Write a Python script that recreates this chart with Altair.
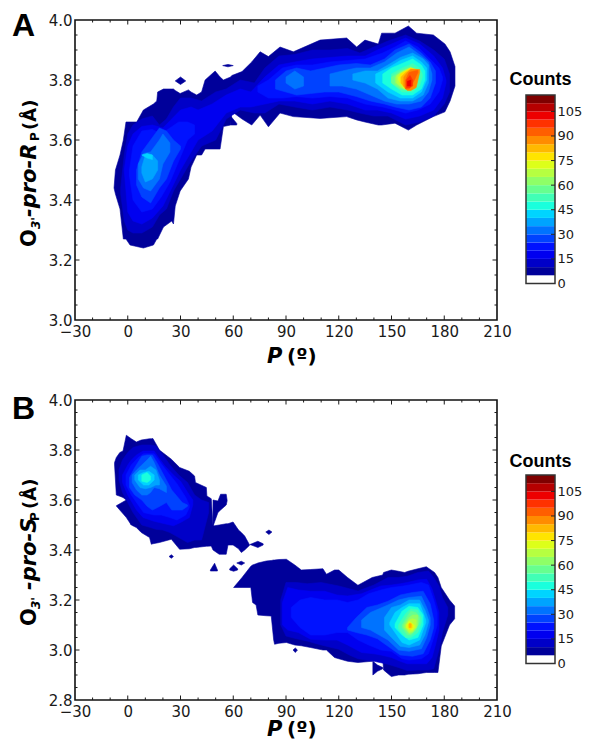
import altair as alt
import pandas as pd

# colour bands: every entry is one 5-count band, starting at 5-10
COLORS = ["#00009a", "#0000c8", "#0000f0", "#0012ff", "#0042ff", "#0073ff", "#00a4ff", "#00d4ff",
          "#1affdd", "#41ffb6", "#67ff8f", "#8fff67", "#b6ff41", "#ddff1a", "#ffe500", "#ffb900",
          "#ff8c00", "#ff5e00", "#ff3200", "#ed0000", "#b60000", "#7f0000"]
BAND_EDGES = [0, 5, 10, 15, 20, 25, 30, 35, 40, 45, 50, 55, 60, 65, 70, 75, 80, 85, 90, 95, 100, 105, 110, 115]
BAR_TICKS = [0, 15, 30, 45, 60, 75, 90, 105]
X_MAJOR = [-30, 0, 30, 60, 90, 120, 150, 180, 210]
X_MINOR = [-20, -10, 10, 20, 40, 50, 70, 80, 100, 110, 130, 140, 160, 170, 190, 200]
YA_MAJOR = [3.0, 3.2, 3.4, 3.6, 3.8, 4.0]
YB_MAJOR = [2.8, 3.0, 3.2, 3.4, 3.6, 3.8, 4.0]
YA_MINOR = [3.05, 3.1, 3.15, 3.25, 3.3, 3.35, 3.45, 3.5, 3.55, 3.65, 3.7, 3.75, 3.85, 3.9, 3.95]
YB_MINOR = [2.85, 2.9, 2.95, 3.05, 3.1, 3.15, 3.25, 3.3, 3.35, 3.45, 3.5, 3.55, 3.65, 3.7, 3.75, 3.85, 3.9, 3.95]

# contour outlines: (P, lower, upper) per count level
A05 = [(-7.8,3.44,3.44),(-7,3.42,3.50),(-4.4,3.37,3.55),(-2.5,3.27,3.60),(-1,3.27,3.66),(1.3,3.25,3.66),(5.1,3.245,3.66),
       (8.9,3.24,3.70),(14.6,3.25,3.72),(16.5,3.27,3.73),(17,3.27,3.76),(20.3,3.31,3.77),(25,3.33,3.77),(26,3.32,3.77),(27,3.38,3.765),
       (29.8,3.43,3.755),(34.5,3.47,3.767),(36,3.51,3.76),(39.2,3.55,3.75),(42,3.55,3.76),(44,3.57,3.80),(49.7,3.57,3.83),(52.5,3.57,3.81),
       (54.4,3.645,3.80),(58.5,3.65,3.81),(59.2,3.695,3.815),(65,3.67,3.828),(70.5,3.65,3.86),(75.3,3.683,3.894),(80,3.644,3.878),
       (86.6,3.69,3.91),(94.2,3.678,3.894),(109.4,3.672,3.933),(124.5,3.678,3.94),(130.2,3.667,3.91),(134.9,3.66,3.933),(142.5,3.65,3.92),
       (144.4,3.65,3.956),(152,3.656,3.956),(159.6,3.633,3.98),(164.3,3.65,3.956),(173.8,3.678,3.95),(180.4,3.694,3.92),(183.3,3.73,3.894),
       (186.1,3.78,3.845)]
A05b = [(58.5,3.65,3.68),(62,3.65,3.655)]
A05c = [(27,3.797,3.797),(30,3.785,3.81),(33,3.797,3.797)]
A05d = [(54,3.848,3.848),(57,3.844,3.852),(60,3.848,3.848)]
A10 = [(-4,3.42,3.44),(-2,3.33,3.55),(0,3.30,3.62),(3,3.29,3.65),(8,3.29,3.67),(14,3.31,3.68),(18,3.35,3.65),(22,3.37,3.67),(26,3.43,3.71),
       (30,3.47,3.74),(36,3.53,3.74),(42,3.58,3.73),(50,3.60,3.76),(56,3.67,3.77),(64,3.70,3.80),(72,3.69,3.79),(78,3.69,3.84),(86,3.72,3.88),
       (95,3.71,3.885),(105,3.70,3.90),(115,3.71,3.90),(125,3.70,3.905),(132,3.69,3.89),(140,3.68,3.91),(148,3.68,3.93),(158,3.65,3.95),
       (166,3.66,3.93),(174,3.68,3.90),(180,3.72,3.87),(183,3.76,3.82)]
A15 = [(-2,3.50,3.50),(0,3.36,3.58),(3,3.33,3.62),(8,3.32,3.645),(14,3.34,3.65),(20,3.38,3.64),(25,3.44,3.67),(30,3.50,3.70),(36,3.56,3.71),
       (40,3.60,3.70),(48,3.63,3.72),(56,3.69,3.75),(64,3.71,3.77),(70,3.71,3.76),(78,3.72,3.81),(86,3.73,3.85),(95,3.73,3.86),(105,3.72,3.87),
       (115,3.73,3.875),(125,3.72,3.88),(135,3.70,3.88),(142,3.70,3.90),(150,3.69,3.92),(158,3.67,3.94),(166,3.68,3.92),(174,3.70,3.88),
       (179,3.74,3.84),(181,3.79,3.80)]
A20a = [(1,3.48,3.50),(3,3.40,3.58),(8,3.36,3.63),(14,3.37,3.635),(19,3.41,3.62),(24,3.46,3.64),(29,3.53,3.66),(34,3.60,3.66),(38,3.62,3.65)]
A20b = [(74,3.76,3.78),(80,3.74,3.80),(88,3.74,3.84),(96,3.745,3.85),(105,3.74,3.85),(115,3.745,3.86),(125,3.74,3.865),(135,3.72,3.87),
        (145,3.71,3.89),(152,3.70,3.91),(158,3.69,3.93),(165,3.70,3.91),(172,3.72,3.87),(177,3.76,3.84),(179,3.80,3.81)]
A25a = [(5,3.45,3.50),(8,3.41,3.56),(13,3.39,3.60),(18,3.44,3.64),(22,3.47,3.63),(26,3.53,3.60),(30,3.57,3.58)]
A25b = [(84,3.77,3.80),(90,3.76,3.83),(96,3.75,3.84),(104,3.755,3.83),(112,3.76,3.84),(120,3.76,3.85),(130,3.745,3.855),(138,3.73,3.85),
        (146,3.72,3.87),(152,3.71,3.90),(160,3.70,3.92),(167,3.71,3.89),(172,3.74,3.86),(175,3.79,3.83)]
A30a = [(6,3.47,3.52),(9,3.44,3.555),(13,3.43,3.56),(18,3.47,3.60),(20,3.52,3.62),(24,3.56,3.59)]
A30b = [(90,3.79,3.81),(95,3.77,3.83),(100,3.78,3.81)]
A30c = [(115,3.78,3.82),(122,3.78,3.83),(130,3.77,3.84),(138,3.75,3.84),(146,3.73,3.86),(153,3.72,3.89),(160,3.72,3.91),(167,3.73,3.88),
        (171,3.76,3.86),(173,3.80,3.82)]
A35a = [(8,3.49,3.51),(10,3.46,3.55),(14,3.47,3.55),(17,3.50,3.53)]
A35b = [(128,3.80,3.82),(135,3.79,3.83),(142,3.77,3.83),(148,3.74,3.85),(155,3.73,3.875),(162,3.73,3.89),(168,3.75,3.87),(171,3.79,3.85)]
A40a = [(8,3.55,3.55),(11,3.54,3.555),(14,3.535,3.55)]
A40b = [(141,3.79,3.82),(148,3.76,3.84),(155,3.74,3.865),(162,3.74,3.88),(167,3.76,3.86),(170,3.80,3.84)]
A45 = [(145,3.79,3.82),(150,3.77,3.84),(156,3.75,3.855),(162,3.75,3.87),(167,3.77,3.85),(169,3.80,3.83)]
A50 = [(150,3.79,3.82),(156,3.76,3.84),(162,3.76,3.855),(166,3.78,3.84),(167.5,3.81,3.82)]
A55 = [(150,3.79,3.81),(155,3.77,3.83),(161,3.765,3.845),(165,3.785,3.83)]
A60 = [(152,3.79,3.81),(155,3.775,3.825),(160,3.77,3.84),(164,3.79,3.83)]
A65 = [(153,3.79,3.815),(157,3.77,3.83),(161,3.77,3.84),(164,3.80,3.83)]
A70 = [(154,3.80,3.81),(157,3.775,3.825),(161,3.775,3.84),(163.5,3.80,3.83)]
A75 = [(155,3.79,3.82),(158,3.775,3.83),(161,3.78,3.84),(164,3.81,3.835)]
A80 = [(155.5,3.79,3.81),(158,3.77,3.825),(161,3.775,3.837),(165,3.815,3.835)]
A85 = [(157,3.78,3.81),(159,3.765,3.825),(161,3.765,3.835),(164,3.775,3.835),(166,3.825,3.835)]
A90 = [(158,3.77,3.80),(160,3.77,3.825),(163,3.80,3.83),(165,3.825,3.832)]
A95 = [(158.5,3.775,3.80),(160.5,3.775,3.815),(162,3.78,3.80)]
A100 = [(159,3.78,3.795),(161,3.78,3.80)]

B05a = [(-7.5,3.74,3.75),(-6.5,3.62,3.77),(-4.5,3.615,3.79),(-2.7,3.61,3.796),(-0.8,3.60,3.859),(2,3.50,3.845),(4.9,3.49,3.832),(7.7,3.47,3.84),
        (12.4,3.45,3.845),(13.4,3.423,3.845),(14.3,3.425,3.846),(18,3.43,3.80),(24.8,3.443,3.763),(29.5,3.403,3.73),(35,3.405,3.715),(38,3.41,3.696),
        (38.5,3.41,3.67),(44.7,3.415,3.65),(45,3.415,3.616),(47.5,3.416,3.605),(48.5,3.40,3.496),(52,3.383,3.50),(56,3.383,3.505),(57,3.42,3.505),
        (59.9,3.42,3.512),(63,3.405,3.48),(64.6,3.39,3.47),(66.5,3.40,3.456),(69.3,3.419,3.42)]
B05b = [(-6.5,3.576,3.577),(-0.8,3.53,3.60),(2,3.50,3.60)]
B05c = [(48.5,3.495,3.60),(51.3,3.55,3.596),(52.8,3.56,3.623),(56,3.58,3.623),(56.5,3.596,3.60)]
B05d = [(23.5,3.374,3.374),(24.8,3.367,3.381),(26,3.374,3.374)]
B05e = [(78.5,3.472,3.472),(80.3,3.462,3.48),(82,3.472,3.472)]
B05f = [(69.5,3.422,3.422),(74,3.41,3.435),(77,3.42,3.425)]
B05g = [(47,3.316,3.32),(49.4,3.316,3.347),(51,3.316,3.32)]
B05h = [(58,3.32,3.325),(60.2,3.315,3.34),(62.5,3.32,3.325)]
B05i = [(62,3.348,3.348),(64.6,3.34,3.355),(66.5,3.348,3.348)]
B05j = [(94,3.0,3.0),(95.3,2.99,3.008),(96.5,3.0,3.0)]
B05k = [(60.2,3.25,3.25),(65,3.25,3.29),(70,3.25,3.335),(71,3.19,3.34),(73,3.18,3.345),(74,3.14,3.348),(78.8,3.137,3.356),(81.6,3.136,3.358),
        (83,3.04,3.36),(83.5,3.023,3.36),(86,3.027,3.362),(90.2,3.03,3.363),(95,3.02,3.34),(98.7,3.017,3.32),(104,3.01,3.322),(111,3.00,3.325),
        (113,3.00,3.303),(117.6,2.97,3.32),(120,2.965,3.32),(125,2.955,3.29),(130.9,2.95,3.259),(139,2.955,3.29),(145,2.97,3.30),(145.5,2.92,3.31),
        (149.9,2.894,3.32),(154,2.90,3.315),(157.5,2.90,3.31),(159.4,2.903,3.315),(165,2.905,3.325),(169.8,2.91,3.333),(174.5,2.91,3.31),
        (176.4,2.91,3.29),(178.3,3.016,3.25),(180.2,3.05,3.23),(183,3.10,3.20),(185.9,3.125,3.176)]
B05l = [(139.4,2.90,2.955),(142,2.915,2.94),(145,2.925,2.93)]
B10a = [(-5,3.68,3.72),(-3,3.63,3.76),(0,3.59,3.79),(3,3.55,3.81),(8,3.50,3.82),(13,3.49,3.82),(16,3.483,3.816),(20,3.48,3.78),(24,3.47,3.74),
        (29,3.45,3.70),(34,3.43,3.67),(38,3.44,3.62),(42,3.44,3.60),(46,3.55,3.59)]
B10b = [(87,3.10,3.20),(90,3.056,3.27),(96,3.045,3.27),(102,3.036,3.265),(110,3.02,3.27),(120,3.003,3.256),(126,2.98,3.245),(131,2.965,3.236),
        (140,2.955,3.26),(148,2.943,3.29),(154,2.93,3.29),(159,2.918,3.295),(165,2.92,3.31),(171,2.92,3.316),(174,2.925,3.29),(177,3.0,3.256),
        (179,3.07,3.21),(182,3.14,3.17)]
B15a = [(-3,3.67,3.70),(0,3.62,3.74),(2,3.596,3.76),(5,3.56,3.78),(8.7,3.53,3.796),(15,3.515,3.796),(18,3.51,3.765),(21,3.505,3.737),(26,3.497,3.70),
        (30,3.51,3.675),(35,3.53,3.62),(37,3.58,3.60)]
B15b = [(88,3.10,3.19),(91,3.08,3.25),(97,3.07,3.24),(104,3.043,3.235),(112,3.04,3.235),(119,3.04,3.22),(125,3.02,3.216),(133,2.99,3.225),
        (140,2.985,3.245),(144,2.98,3.256),(150,2.97,3.26),(155,2.955,3.265),(159,2.945,3.27),(165,2.945,3.28),(170,2.945,3.283),(173,2.97,3.245),
        (175,3.02,3.20),(177,3.08,3.15)]
B20a = [(-1,3.66,3.70),(2,3.62,3.74),(6,3.58,3.77),(9,3.55,3.785),(15,3.54,3.785),(19,3.54,3.745),(24,3.53,3.70),(28,3.52,3.665),(33,3.54,3.61),(35,3.57,3.58)]
B20b = [(93,3.13,3.17),(98,3.09,3.20),(104,3.06,3.21),(112,3.06,3.20),(119,3.07,3.20),(125,3.07,3.19),(131,3.04,3.20),(137,3.02,3.225),(144,3.00,3.24),
        (150,2.995,3.25),(156,2.965,3.255),(160,2.96,3.26),(167,2.965,3.27),(171,2.985,3.26),(174,3.05,3.20),(176,3.10,3.15)]
B25a = [(1,3.65,3.69),(4,3.62,3.73),(8,3.60,3.775),(11,3.575,3.78),(14,3.56,3.78),(17,3.57,3.745),(22,3.59,3.68),(25,3.56,3.64),(31,3.56,3.59),(34,3.575,3.58)]
B25b = [(125,3.08,3.09),(130,3.07,3.13),(136,3.06,3.17),(142,3.045,3.18),(148,3.015,3.195),(155,2.98,3.22),(162,2.975,3.23),(168,2.985,3.235),(172,3.04,3.185),(174,3.09,3.12)]
B30a = [(2.5,3.67,3.70),(5,3.64,3.72),(8,3.62,3.74),(11,3.62,3.76),(13,3.63,3.775),(15,3.65,3.75),(18,3.645,3.70),(22,3.63,3.655)]
B30b = [(133,3.09,3.12),(138,3.08,3.15),(143,3.06,3.165),(148,3.04,3.18),(154,3.00,3.20),(160,2.995,3.21),(167,3.005,3.215),(170,3.05,3.17),(172,3.10,3.13)]
B35a = [(4,3.68,3.70),(7,3.65,3.72),(10,3.645,3.72),(13,3.65,3.735),(16,3.66,3.72),(18,3.66,3.68)]
B35b = [(146,3.08,3.13),(150,3.05,3.17),(155,3.015,3.18),(160,3.01,3.20),(166,3.02,3.20),(169,3.06,3.16),(171,3.11,3.12)]
B40a = [(6,3.68,3.70),(9,3.66,3.71),(12,3.66,3.715),(15,3.68,3.70)]
B40b = [(149,3.10,3.11),(152,3.07,3.15),(156,3.03,3.17),(160,3.02,3.185),(166,3.04,3.185),(168,3.08,3.15),(169.5,3.11,3.12)]
B45a = [(8,3.675,3.70),(11,3.67,3.71),(13,3.68,3.695)]
B45b = [(152,3.09,3.105),(156,3.06,3.155),(160,3.04,3.175),(165,3.05,3.17),(168,3.10,3.14)]
B50 = [(154,3.085,3.10),(158,3.05,3.145),(161,3.05,3.165),(165,3.07,3.16),(167,3.11,3.13)]
B55 = [(156,3.09,3.10),(159,3.06,3.135),(161,3.06,3.155),(164,3.08,3.15),(166,3.115,3.13)]
B60 = [(157,3.09,3.10),(160,3.065,3.13),(162,3.07,3.14),(165,3.10,3.14)]
B65 = [(158,3.09,3.10),(160,3.07,3.12),(162,3.075,3.125),(164,3.09,3.12)]
B70 = [(158.5,3.09,3.10),(160,3.08,3.115),(162,3.08,3.105),(163,3.09,3.10)]
B75 = [(159.5,3.09,3.10),(160.5,3.08,3.11),(162,3.09,3.10)]
B80 = [(160,3.09,3.105),(161.2,3.09,3.105)]

REGIONS_A = [(5,A05),(5,A05b),(5,A05c),(5,A05d),(10,A10),(15,A15),(20,A20a),(20,A20b),(25,A25a),(25,A25b),(30,A30a),(30,A30b),(30,A30c),
             (35,A35a),(35,A35b),(40,A40a),(40,A40b),(45,A45),(50,A50),(55,A55),(60,A60),(65,A65),(70,A70),(75,A75),(80,A80),(85,A85),
             (90,A90),(95,A95),(100,A100)]
REGIONS_B = [(5,B05a),(5,B05b),(5,B05c),(5,B05d),(5,B05e),(5,B05f),(5,B05g),(5,B05h),(5,B05i),(5,B05j),(5,B05k),(5,B05l),(10,B10a),(10,B10b),
             (15,B15a),(15,B15b),(20,B20a),(20,B20b),(25,B25a),(25,B25b),(30,B30a),(30,B30b),(35,B35a),(35,B35b),(40,B40a),(40,B40b),
             (45,B45a),(45,B45b),(50,B50),(55,B55),(60,B60),(65,B65),(70,B70),(75,B75),(80,B80)]

TICK_FONT = "DejaVu Sans"
BOLD_FONT = "DejaVu Sans"
INK = "#1a1a1a"


def text(s, x, y, size, font=BOLD_FONT, style="normal", weight="bold", angle=0, align="left"):
    return alt.Chart(pd.DataFrame({"t": [s]})).mark_text(
        font=font, fontSize=size, fontStyle=style, fontWeight=weight, angle=angle,
        align=align, baseline="alphabetic", color="#000000"
    ).encode(text="t:N", x=alt.value(x), y=alt.value(y))


def panel(regions, ydomain, ymajor, yminor, letter, letter_y, r_letter, offsets, xt_y):
    xscale = alt.Scale(domain=[-30, 210], nice=False, zero=False)
    yscale = alt.Scale(domain=ydomain, nice=False, zero=False)
    xenc = alt.X("x:Q", scale=xscale, title=None,
                 axis=alt.Axis(values=X_MAJOR, ticks=False, grid=False, domain=False, labelFont=TICK_FONT,
                               labelFontSize=15, labelPadding=4, labelColor=INK, labelFlush=False, labelOverlap=False))
    yenc = alt.Y("lo:Q", scale=yscale, title=None,
                 axis=alt.Axis(values=ymajor, format=".1f", ticks=False, grid=False, domain=False, labelFont=TICK_FONT,
                               labelFontSize=15, labelPadding=3, labelColor=INK, labelFlush=False, labelOverlap=False))
    layers = []
    for level, rows in regions:
        df = pd.DataFrame(rows, columns=["x", "lo", "hi"])
        hexcol = COLORS[(level - 5) // 5]
        layers.append(alt.Chart(df).mark_area(orient="vertical", interpolate="linear", fill=hexcol,
                                              stroke=hexcol, strokeWidth=0.6).encode(x=xenc, y=yenc, y2="hi:Q"))

    def xticks(vals, ln):
        df = pd.DataFrame({"x": vals})
        b = alt.Chart(df).mark_rule(color=INK, strokeWidth=1)
        return [b.encode(x=xenc, y=alt.value(300 - ln), y2=alt.value(300)),
                b.encode(x=xenc, y=alt.value(0), y2=alt.value(ln))]

    def yticks(vals, ln):
        df = pd.DataFrame({"lo": vals})
        b = alt.Chart(df).mark_rule(color=INK, strokeWidth=1)
        return [b.encode(y=yenc, x=alt.value(0), x2=alt.value(ln)),
                b.encode(y=yenc, x=alt.value(422 - ln), x2=alt.value(422))]

    layers += xticks(X_MAJOR[1:-1], 4.5) + xticks(X_MINOR, 2.5) + yticks(ymajor[1:-1], 4.5) + yticks(yminor, 2.5)

    o = offsets
    layers += [
        text(letter, -63, letter_y, 32, font="Liberation Sans"),
        text("P", 192, xt_y, 21, style="italic"),
        text("(º)", 212, xt_y, 20),
        text("O", -39, o[0], 21, angle=270),
        text("3'", -35.5, o[1], 12, style="italic", angle=270),
        text("-pro-" + r_letter, -39, o[2], 21, style="italic", angle=270),
        text("P", -36.5, o[3], 12, angle=270),
        text("(Å)", -39, o[4], 18, angle=270),
    ]
    return alt.layer(*layers).properties(width=422, height=300)


def colorbar(title_y):
    rows = []
    for i in range(len(BAND_EDGES) - 1):
        rows.append({"b0": BAND_EDGES[i], "b1": BAND_EDGES[i + 1], "c": "#ffffff" if i == 0 else COLORS[i - 1]})
    df = pd.DataFrame(rows)
    yscale = alt.Scale(domain=[0, 115], range=[263.5, 75], nice=False, zero=False)
    yenc = alt.Y("b0:Q", scale=yscale, title=None,
                 axis=alt.Axis(orient="right", values=BAR_TICKS, ticks=False, grid=False, domain=False,
                               labelFont=TICK_FONT, labelFontSize=13, labelPadding=2, labelColor=INK, labelOverlap=False))
    bands = alt.Chart(df).mark_rect().encode(
        y=yenc, y2="b1:Q", x=alt.value(0), x2=alt.value(29),
        color=alt.Color("c:N", scale=None, legend=None))
    frame = alt.Chart(pd.DataFrame({"b0": [0], "b1": [115]})).mark_rect(
        fillOpacity=0, stroke="#333333", strokeWidth=1.5).encode(
        y=yenc, y2="b1:Q", x=alt.value(0), x2=alt.value(29))
    tick_df = pd.DataFrame({"b0": BAR_TICKS[1:]})
    ticks = alt.Chart(tick_df).mark_rule(color="#222222", strokeWidth=1).encode(
        y=yenc, x=alt.value(25), x2=alt.value(29))
    title = text("Counts", 14.5, title_y, 18, font="Liberation Sans", align="center")
    return alt.layer(bands, frame, ticks, title).properties(width=29, height=300,
                                                             view=alt.ViewConfig(stroke=None))


panel_a = panel(REGIONS_A, [3.0, 4.0], YA_MAJOR, YA_MINOR, "A", 16, "R", (227, 209, 197, 121, 110), 343)
panel_b = panel(REGIONS_B, [2.8, 4.0], YB_MAJOR, YB_MINOR, "B", 19, "S", (226, 209, 190, 121, 109), 336)

chart = alt.concat(panel_a, colorbar(65), panel_b, colorbar(67), columns=2,
                   spacing={"column": 29, "row": 80}, bounds="flush").properties(
    autosize=alt.AutoSizeParams(type="none"),
    padding={"left": 67, "top": 12, "right": 507, "bottom": 721}
).configure_view(stroke="#111111", strokeWidth=1.6)

chart.save("out.html", embed_options={"renderer": "svg", "actions": False})
